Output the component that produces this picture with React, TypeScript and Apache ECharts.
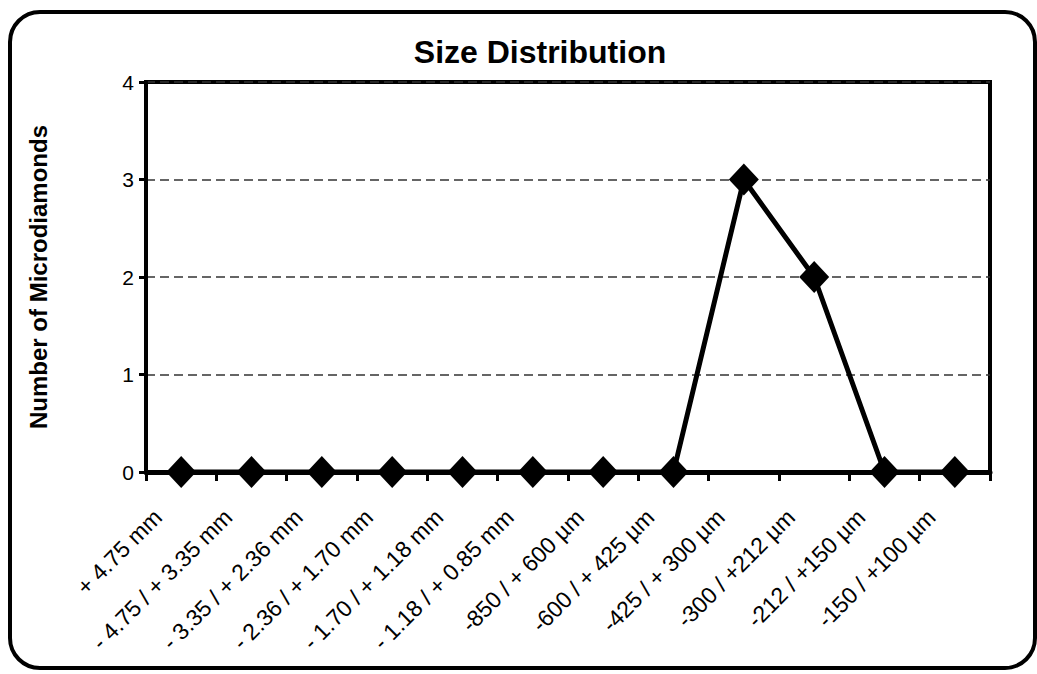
import React, { useEffect, useRef } from "react";
import * as echarts from "echarts";

const categories = [
  "+ 4.75 mm",
  "- 4.75 / + 3.35 mm",
  "- 3.35 / + 2.36 mm",
  "- 2.36 / + 1.70 mm",
  "- 1.70 / + 1.18 mm",
  "- 1.18 / + 0.85 mm",
  "-850 / + 600 µm",
  "-600 / + 425 µm",
  "-425 / + 300 µm",
  "-300 / +212 µm",
  "-212 / +150 µm",
  "-150 / +100 µm",
];
const counts = [0, 0, 0, 0, 0, 0, 0, 0, 3, 2, 0, 0];
const yTicks = [0, 1, 2, 3, 4];

const FONT = "'Liberation Sans', Arial, sans-serif";

export default function App() {
  const ref = useRef<HTMLDivElement>(null);
  useEffect(() => {
    if (!ref.current) return;
    const chart = echarts.init(ref.current, undefined, { renderer: "svg" });
    chart.setOption({
      animation: false,
      backgroundColor: "#fff",
      title: {
        text: "Size Distribution",
        left: 535,
        top: 31,
        textAlign: "center",
        textStyle: { fontFamily: FONT, fontSize: 32, fontWeight: "bold", color: "#000" },
      },
      graphic: [
        {
          type: "rect",
          shape: { x: 10, y: 12, width: 1025, height: 656, r: 30 },
          style: { fill: "none", stroke: "#000", lineWidth: 4 },
          silent: true,
        },
      ],
      grid: {
        left: 146,
        right: 47,
        top: 82,
        bottom: 202,
        show: true,
        borderColor: "#000",
        borderWidth: 4,
        backgroundColor: "transparent",
      },
      xAxis: {
        type: "category",
        data: categories,
        boundaryGap: true,
        axisLine: { show: true, lineStyle: { color: "#000", width: 5 } },
        axisTick: { show: true, alignWithLabel: false, length: 9, lineStyle: { color: "#000", width: 3 } },
        axisLabel: {
          interval: 0,
          rotate: 45,
          margin: 18,
          padding: [0, 33, 0, 0],
          color: "#000",
          fontFamily: FONT,
          fontSize: 23,
        },
        splitLine: { show: false },
      },
      yAxis: {
        type: "value",
        min: yTicks[0],
        max: yTicks[yTicks.length - 1],
        interval: 1,
        name: "Number of Microdiamonds",
        nameLocation: "middle",
        nameGap: 96,
        nameTextStyle: { fontFamily: FONT, fontSize: 24, fontWeight: "bold", color: "#000" },
        axisLine: { show: true, lineStyle: { color: "#000", width: 4 } },
        axisTick: { show: true, length: 7, lineStyle: { color: "#000", width: 3 } },
        axisLabel: { color: "#000", fontFamily: FONT, fontSize: 21, margin: 12 },
        splitLine: { show: true, lineStyle: { color: "#333", width: 1.5, type: [9, 5] } },
      },
      series: [
        {
          type: "line",
          data: counts,
          symbol: "diamond",
          symbolSize: [30, 32],
          lineStyle: { color: "#000", width: 5 },
          itemStyle: { color: "#000" },
          z: 5,
        },
      ],
    });
    return () => chart.dispose();
  }, []);
  return (
    <div
      ref={ref}
      style={{ position: "fixed", left: 0, top: 0, width: 1037, height: 674, background: "#fff" }}
    />
  );
}
